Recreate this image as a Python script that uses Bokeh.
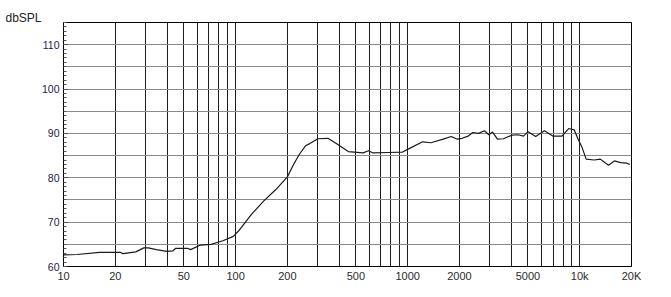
from bokeh.plotting import figure
from bokeh.models import Range1d, FixedTicker, BasicTickFormatter
from bokeh.embed import file_html
from bokeh.resources import INLINE

# Frequency response
freq_hz = [10, 12, 16.2, 21.3, 22.2, 26.3, 29.3, 31.1, 34.6, 40,
           43.1, 44.9, 52.5, 54.7, 62.2, 72, 84.4, 97, 104, 124,
           146, 172, 200, 218, 235, 255, 270, 286, 301, 344,
           385, 452, 551, 592, 630, 775, 935, 1000, 1223, 1365,
           1609, 1792, 1944, 2072, 2251, 2390, 2584, 2794, 2963, 3116,
           3326, 3599, 4030, 4394, 4711, 5016, 5547, 6240, 6970, 7890,
           8630, 9285, 9795, 10330, 10900, 12150, 13180, 14690, 15930, 17290,
           18730, 19560]
spl_db = [62.6, 62.7, 63.2, 63.2, 62.9, 63.3, 64.2, 64.2, 63.8, 63.4,
          63.5, 64.1, 64.1, 63.8, 64.8, 65.0, 65.8, 66.8, 68.0, 71.8,
          74.8, 77.4, 80.2, 83.1, 85.3, 87.2, 87.7, 88.3, 88.8, 88.9,
          87.7, 85.9, 85.6, 86.1, 85.6, 85.7, 85.8, 86.4, 88.1, 87.9,
          88.7, 89.3, 88.7, 88.9, 89.4, 90.2, 90.0, 90.6, 89.7, 90.3,
          88.7, 88.8, 89.6, 89.7, 89.4, 90.4, 89.3, 90.6, 89.4, 89.4,
          91.1, 90.8, 88.7, 86.8, 84.2, 84.0, 84.2, 82.8, 83.8, 83.4,
          83.3, 83.0]

x_tick_values = [10, 20, 50, 100, 200, 500, 1000, 2000, 5000, 10000, 20000]
x_tick_labels = ["10", "20", "50", "100", "200", "500", "1000", "2000", "5000", "10k", "20K"]
x_grid_values = [20, 30, 40, 50, 60, 70, 80, 90,
                 100, 200, 300, 400, 500, 600, 700, 800, 900,
                 1000, 2000, 3000, 4000, 5000, 6000, 7000, 8000, 9000, 10000]
y_tick_values = [60, 70, 80, 90, 100, 110]
y_minor_values = list(range(60, 116))
y_grid_values = [65, 70, 75, 80, 85, 90, 95, 100, 105, 110]
y_unit_label = "dbSPL"

p = figure(width=671, height=297, x_axis_type="log",
           x_range=Range1d(10, 20000), y_range=Range1d(60, 115),
           output_backend="svg", toolbar_location=None,
           min_border_left=63, min_border_right=40,
           min_border_top=22, min_border_bottom=31)
p.background_fill_color = "white"
p.border_fill_color = "white"
p.outline_line_color = "black"
p.outline_line_width = 1

# unit label at top-left, as a title
p.title.text = y_unit_label
p.title.align = "left"
p.title.offset = -58
p.title.standoff = -5
p.title.text_font = "Liberation Sans"
p.title.text_font_size = "12px"
p.title.text_font_style = "normal"
p.title.text_color = "#222222"

# grids
p.xgrid.ticker = FixedTicker(ticks=x_grid_values)
p.xgrid.grid_line_color = "#1e1e1e"
p.xgrid.grid_line_width = 1
p.ygrid.ticker = FixedTicker(ticks=y_grid_values)
p.ygrid.grid_line_color = "#8a8a8a"
p.ygrid.grid_line_width = 1

# x axis
xa = p.xaxis[0]
xa.ticker = FixedTicker(ticks=x_tick_values, minor_ticks=[])
xa.formatter = BasicTickFormatter(use_scientific=False)
xa.major_label_overrides = dict(zip(x_tick_values, x_tick_labels))
xa.major_tick_in = 0
xa.major_tick_out = 0
xa.minor_tick_in = 0
xa.minor_tick_out = 0
xa.major_label_standoff = 3
xa.major_label_text_font = "Liberation Sans"
xa.major_label_text_font_size = "11px"
xa.major_label_text_color = "#2a2a2a"
xa.axis_line_color = "black"

# y axis
ya = p.yaxis[0]
ya.ticker = FixedTicker(ticks=y_tick_values, minor_ticks=y_minor_values)
ya.major_tick_in = 4
ya.major_tick_out = 0
ya.minor_tick_in = 3
ya.minor_tick_out = 0
ya.major_tick_line_color = "#333333"
ya.minor_tick_line_color = "#555555"
ya.major_label_standoff = 4
ya.major_label_text_font = "Liberation Sans"
ya.major_label_text_font_size = "10.5px"
ya.major_label_text_color = "#1c1c4a"
ya.axis_line_color = "black"

p.line(freq_hz, spl_db, line_color="#1a1a1a", line_width=1.2)

open("out.html", "w").write(file_html(p, INLINE))
